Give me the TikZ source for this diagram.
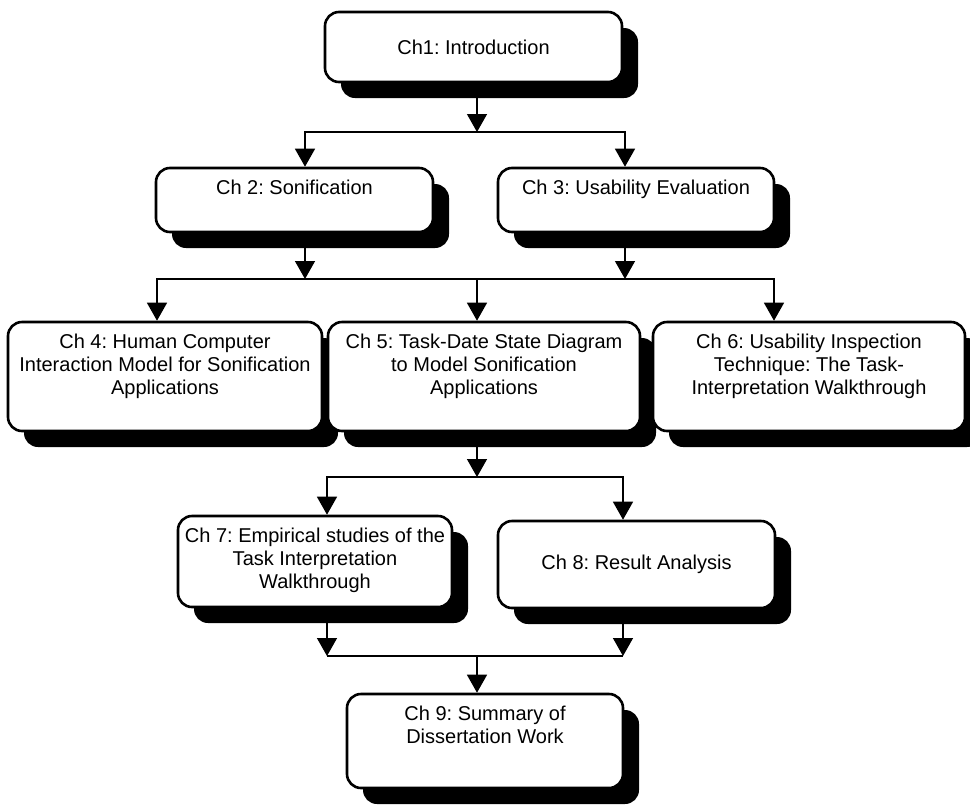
\documentclass[tikz,border=0pt]{standalone}
\usepackage{fontspec}
\setmainfont{Liberation Sans}
\usetikzlibrary{arrows.meta,shadows}
\frenchspacing

% text block of a chapter box: width, height, vertical position, lines
\newcommand{\chtext}[4]{\parbox[c][#2pt][#3]{#1pt}{\centering #4}}
% strut that sets the first baseline below the top edge
\newcommand{\chtop}{\rule{0pt}{26pt}}

\begin{document}
\begin{tikzpicture}[x=1pt,y=-1pt,
  chbox/.style={draw, line width=2.6pt, rounded corners=14pt, fill=white,
    inner sep=0pt, font=\fontsize{20}{23}\selectfont,
    drop shadow={shadow xshift=16pt, shadow yshift=-16pt, fill=black, opacity=1}},
  wire/.style={line width=1.4pt, line join=miter},
  link/.style={wire, -{Triangle[width=20pt,length=18pt]}},
  twolink/.style={wire, {Triangle[width=20pt,length=18pt]}-{Triangle[width=20pt,length=18pt]}}
]
\useasboundingbox (0,0) rectangle (970,804);

% chapter boxes
\node[chbox] (b1) at (473.5,47)  {\chtext{297}{70}{c}{Ch1: Introduction}};
\node[chbox] (b2) at (294.5,200) {\chtext{277}{64}{t}{\chtop Ch 2: Sonification}};
\node[chbox] (b3) at (636,200)   {\chtext{276}{64}{t}{\chtop Ch 3: Usability Evaluation}};
\node[chbox] (b4) at (165,376.5) {\chtext{314}{109}{t}{\chtop Ch 4: Human Computer\\Interaction Model for Sonification\\Applications}};
\node[chbox] (b5) at (484,376.5) {\chtext{312}{109}{t}{\chtop Ch 5: Task-Date State Diagram\\to Model Sonification\\Applications}};
\node[chbox] (b6) at (809,376.5) {\chtext{312}{109}{t}{\chtop Ch 6: Usability Inspection\\Technique: The Task-\\Interpretation Walkthrough}};
\node[chbox] (b7) at (315,561.5) {\chtext{274}{91}{t}{\chtop Ch 7: Empirical studies of the\\Task Interpretation\\Walkthrough}};
\node[chbox] (b8) at (636.5,564.5) {\chtext{277}{87}{c}{Ch 8: Result Analysis}};
\node[chbox] (b9) at (485,741)   {\chtext{276}{94}{t}{\chtop Ch 9: Summary of\\Dissertation Work}};

% junction points of the connector buses
\coordinate (s1)  at (477,132);
\coordinate (s1l) at (305,132);
\coordinate (s1r) at (625,132);
\coordinate (s2l) at (157,279);
\coordinate (s2a) at (305,279);
\coordinate (s2m) at (477,279);
\coordinate (s2b) at (625,279);
\coordinate (s2r) at (774,279);
\coordinate (s3)  at (477,477);
\coordinate (s3l) at (327,477);
\coordinate (s3r) at (623,477);
\coordinate (s4l) at (327,656);
\coordinate (s4)  at (477,656);
\coordinate (s4r) at (623,656);

% Ch1 -> Ch2, Ch3
\draw[link] (b1.south -| s1) -- (s1);
\draw[twolink] (b2.north -| s1l) -- (s1l) -- (s1r) -- (b3.north -| s1r);

% Ch2, Ch3 -> Ch4, Ch5, Ch6
\draw[link] (b2.south -| s2a) -- (s2a);
\draw[link] (b3.south -| s2b) -- (s2b);
\draw[twolink] (b4.north -| s2l) -- (s2l) -- (s2r) -- (b6.north -| s2r);
\draw[link] (s2m) -- (b5.north -| s2m);

% Ch5 -> Ch7, Ch8
\draw[link] (b5.south -| s3) -- (s3);
\draw[twolink] (b7.north -| s3l) -- (s3l) -- (s3r) -- (b8.north -| s3r);

% Ch7, Ch8 -> Ch9
\draw[link] (b7.south -| s4l) -- (s4l);
\draw[link] (b8.south -| s4r) -- (s4r);
\draw[wire] (s4l) -- (s4r);
\draw[link] (s4) -- (b9.north -| s4);
\end{tikzpicture}
\end{document}
